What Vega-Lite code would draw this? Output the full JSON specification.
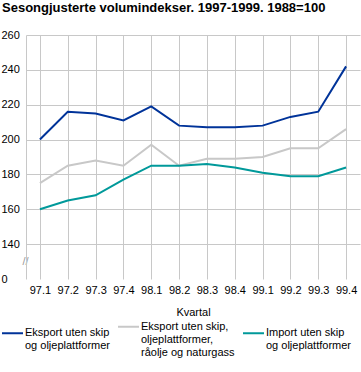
{
  "$schema": "https://vega.github.io/schema/vega-lite/v6.json",
  "autosize": "none",
  "width": 334,
  "height": 244,
  "padding": {"left": 26, "top": 35, "right": 1, "bottom": 93},
  "background": "white",
  "title": {
    "text": "Sesongjusterte volumindekser. 1997-1999. 1988=100",
    "anchor": "start",
    "frame": "group",
    "dx": -24,
    "offset": 14,
    "font": "Liberation Sans",
    "fontSize": 13,
    "fontWeight": "bold",
    "color": "#000000"
  },
  "config": {
    "view": {"stroke": null},
    "font": "Liberation Sans"
  },
  "data": {
    "values": [
      {"q": "97.1", "s": "A", "v": 200},
      {"q": "97.2", "s": "A", "v": 216},
      {"q": "97.3", "s": "A", "v": 215},
      {"q": "97.4", "s": "A", "v": 211},
      {"q": "98.1", "s": "A", "v": 219},
      {"q": "98.2", "s": "A", "v": 208},
      {"q": "98.3", "s": "A", "v": 207},
      {"q": "98.4", "s": "A", "v": 207},
      {"q": "99.1", "s": "A", "v": 208},
      {"q": "99.2", "s": "A", "v": 213},
      {"q": "99.3", "s": "A", "v": 216},
      {"q": "99.4", "s": "A", "v": 242},
      {"q": "97.1", "s": "B", "v": 175},
      {"q": "97.2", "s": "B", "v": 185},
      {"q": "97.3", "s": "B", "v": 188},
      {"q": "97.4", "s": "B", "v": 185},
      {"q": "98.1", "s": "B", "v": 197},
      {"q": "98.2", "s": "B", "v": 185},
      {"q": "98.3", "s": "B", "v": 189},
      {"q": "98.4", "s": "B", "v": 189},
      {"q": "99.1", "s": "B", "v": 190},
      {"q": "99.2", "s": "B", "v": 195},
      {"q": "99.3", "s": "B", "v": 195},
      {"q": "99.4", "s": "B", "v": 206},
      {"q": "97.1", "s": "C", "v": 160},
      {"q": "97.2", "s": "C", "v": 165},
      {"q": "97.3", "s": "C", "v": 168},
      {"q": "97.4", "s": "C", "v": 177},
      {"q": "98.1", "s": "C", "v": 185},
      {"q": "98.2", "s": "C", "v": 185},
      {"q": "98.3", "s": "C", "v": 186},
      {"q": "98.4", "s": "C", "v": 184},
      {"q": "99.1", "s": "C", "v": 181},
      {"q": "99.2", "s": "C", "v": 179},
      {"q": "99.3", "s": "C", "v": 179},
      {"q": "99.4", "s": "C", "v": 184}
    ]
  },
  "mark": {"type": "line", "strokeWidth": 2, "interpolate": "linear"},
  "encoding": {
    "x": {
      "field": "q",
      "type": "ordinal",
      "scale": {"type": "point", "padding": 0.5},
      "axis": {
        "title": "Kvartal",
        "titleFont": "Liberation Sans",
        "titleFontSize": 11,
        "titleFontWeight": "normal",
        "titleColor": "#000000",
        "titlePadding": 11,
        "labelAngle": 0,
        "labelFont": "Liberation Sans",
        "labelFontSize": 11,
        "labelColor": "#000000",
        "labelPadding": 5,
        "ticks": false,
        "domain": false,
        "grid": true,
        "gridColor": "#c8c8c8",
        "gridWidth": 1
      }
    },
    "y": {
      "field": "v",
      "type": "quantitative",
      "scale": {"domain": [120, 260], "nice": false, "zero": false},
      "axis": {
        "title": null,
        "values": [120, 130, 140, 160, 180, 200, 220, 240, 260],
        "labelExpr": "datum.value == 120 ? '0' : datum.value == 130 ? '//' : datum.label",
        "labelFont": "Liberation Sans",
        "labelFontSize": 11,
        "labelColor": {"condition": {"test": "datum.value == 130", "value": "#999999"}, "value": "#000000"},
        "labelAlign": {"condition": {"test": "datum.value == 130", "value": "center"}, "value": "left"},
        "labelPadding": {"condition": {"test": "datum.value == 130", "value": 1}, "value": 25},
        "ticks": false,
        "domain": true,
        "domainColor": "#c8c8c8",
        "grid": true,
        "gridColor": {"condition": {"test": "datum.value == 130 || datum.value == 120", "value": "transparent"}, "value": "#c8c8c8"},
        "gridWidth": 1
      }
    },
    "color": {
      "field": "s",
      "type": "nominal",
      "scale": {"domain": ["A", "B", "C"], "range": ["#003399", "#c8c8c8", "#00999a"]},
      "legend": {
        "title": null,
        "orient": "none",
        "legendX": -25,
        "legendY": 280,
        "direction": "horizontal",
        "columns": 3,
        "symbolType": "stroke",
        "symbolSize": 441,
        "symbolStrokeWidth": 2,
        "labelFont": "Liberation Sans",
        "labelFontSize": 11,
        "labelColor": "#000000",
        "labelBaseline": "middle",
        "labelOffset": 1,
        "labelLimit": 200,
        "columnPadding": 4,
        "labelExpr": "datum.value == 'A' ? ['Eksport uten skip', 'og oljeplattformer'] : datum.value == 'B' ? ['Eksport uten skip,', 'oljeplattformer,', 'råolje og naturgass'] : ['Import uten skip', 'og oljeplattformer']"
      }
    }
  }
}
